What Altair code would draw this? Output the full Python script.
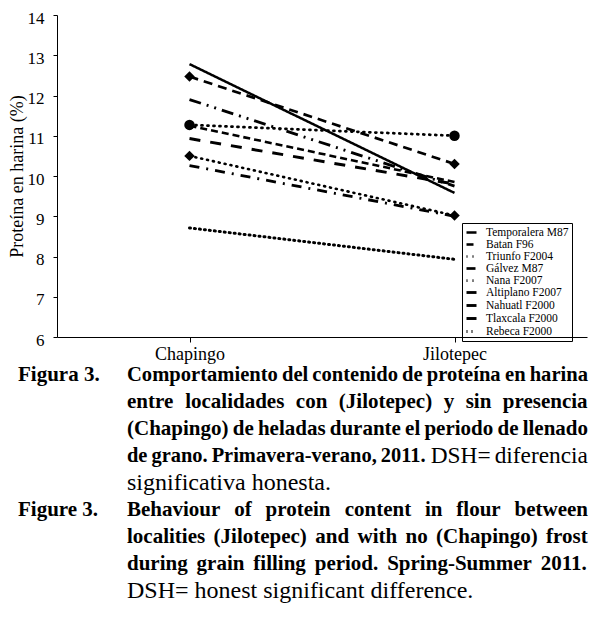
import altair as alt
import pandas as pd

localidades = ["Chapingo", "Jilotepec"]
variedades = ["Temporalera M87", "Batan F96", "Triunfo F2004", "Gálvez M87", "Nana F2007",
              "Altiplano F2007", "Nahuatl F2000", "Tlaxcala F2000", "Rebeca F2000"]
prot_chapingo = [12.78, 11.25, 10.50, 12.47, 11.27, 10.26, 11.90, 10.93, 8.71]
prot_jilotepec = [9.58, 9.85, 9.02, 10.30, 11.00, 9.00, 9.75, 9.80, 7.93]

dash_styles = [[1, 0], [7, 4], [1, 5], [9, 6], [1, 5], [10, 7, 2, 7], [12, 6, 2, 6, 2, 6], [11, 10], [1, 4]]
line_widths = [2.5, 3, 3, 3.5, 3, 4, 1.8, 3.5, 2.5]
dotted = ["Triunfo F2004", "Nana F2007", "Rebeca F2000"]
marker_vars = ["Triunfo F2004", "Gálvez M87", "Nana F2007"]
marker_shapes = ["diamond", "diamond", "circle"]

rows = []
for v, a, b in zip(variedades, prot_chapingo, prot_jilotepec):
    rows.append({"Variedad": v, "Localidad": localidades[0], "Proteina": a})
    rows.append({"Variedad": v, "Localidad": localidades[1], "Proteina": b})
df = pd.DataFrame(rows)

SERIF = "Liberation Serif"

x_enc = alt.X("Localidad:N",
              scale=alt.Scale(type="point", domain=localidades, padding=0.5),
              axis=alt.Axis(title=None, labelFont=SERIF, labelFontSize=18, labelAngle=0,
                            labelPadding=3, tickSize=5, grid=False))
y_enc = alt.Y("Proteina:Q",
              scale=alt.Scale(domain=[6, 14], nice=False, zero=False),
              axis=alt.Axis(title="Proteína en harina (%)", values=list(range(6, 15)),
                            labelFont=SERIF, labelFontSize=17, tickSize=4, labelPadding=9,
                            labelOffset=3,
                            titleFont=SERIF, titleFontSize=18, titleFontWeight="normal",
                            titlePadding=1, grid=False))

dash_enc = alt.StrokeDash("Variedad:N",
                          scale=alt.Scale(domain=variedades, range=dash_styles),
                          legend=alt.Legend(title=None, orient="none", legendX=405, legendY=208,
                                            symbolType="stroke", symbolStrokeWidth=2,
                                            symbolStrokeColor="black", symbolSize=100,
                                            labelFont=SERIF, labelFontSize=11.5,
                                            rowPadding=0, strokeColor="black",
                                            padding=3, labelOffset=8))
width_enc = alt.StrokeWidth("Variedad:N",
                            scale=alt.Scale(domain=variedades, range=line_widths),
                            legend=None)

base = alt.Chart(df)
lines_round = base.mark_line(color="black", strokeCap="round").encode(
    x=x_enc, y=y_enc, strokeDash=dash_enc, strokeWidth=width_enc, detail="Variedad:N"
).transform_filter(alt.FieldOneOfPredicate(field="Variedad", oneOf=dotted))
lines_butt = base.mark_line(color="black", strokeCap="butt").encode(
    x=x_enc, y=y_enc, strokeDash=dash_enc, strokeWidth=width_enc, detail="Variedad:N"
).transform_filter(~alt.FieldOneOfPredicate(field="Variedad", oneOf=dotted))
points = base.mark_point(filled=True, color="black", opacity=1, size=110).encode(
    x=x_enc, y=y_enc,
    shape=alt.Shape("Variedad:N", scale=alt.Scale(domain=marker_vars, range=marker_shapes), legend=None)
).transform_filter(alt.FieldOneOfPredicate(field="Variedad", oneOf=marker_vars))

# ---- caption text (Times-metric widths, used only to justify words) ----
BOLD_W = dict(zip("abcdefghijklmnopqrstuvwxyz",
                  [500, 556, 444, 556, 444, 333, 500, 556, 278, 333, 556, 278, 833, 556, 500, 556, 556, 444, 389, 333, 556, 500, 722, 500, 500, 444]))
BOLD_W.update(zip("ABCDEFGHIJKLMNOPQRSTUVWXYZ",
                  [722, 667, 722, 722, 667, 611, 778, 778, 389, 500, 778, 667, 944, 722, 778, 611, 778, 722, 556, 667, 722, 722, 1000, 722, 722, 667]))
BOLD_W.update({".": 250, ",": 250, "-": 333, "(": 333, ")": 333, "=": 570, "í": 278, "á": 500, " ": 250})
REG_W = dict(zip("abcdefghijklmnopqrstuvwxyz",
                 [444, 500, 444, 500, 444, 333, 500, 500, 278, 278, 500, 278, 778, 500, 500, 500, 500, 333, 389, 278, 500, 500, 722, 500, 500, 444]))
REG_W.update(zip("ABCDEFGHIJKLMNOPQRSTUVWXYZ",
                 [722, 667, 667, 722, 611, 556, 722, 722, 333, 389, 722, 611, 889, 722, 722, 556, 722, 667, 556, 611, 722, 722, 944, 722, 722, 611]))
REG_W.update({".": 250, ",": 250, "-": 333, "(": 333, ")": 333, "=": 564, "í": 278, "á": 500, " ": 250})
for d in (BOLD_W, REG_W):
    d.update({c: 500 for c in "0123456789"})

FS_B = 21
FS_R = 24
MIN_GAP = 4


def wwidth(word, bold, fs):
    tbl = BOLD_W if bold else REG_W
    return sum(tbl.get(c, 500) for c in word) * fs / 1000.0


one = pd.DataFrame({"k": [0]})


def word_mark(s, px, py, bold, fs):
    return alt.Chart(one).mark_text(
        text=s, font=SERIF, fontSize=round(fs, 2),
        fontWeight="bold" if bold else "normal",
        align="left", baseline="middle", color="black"
    ).encode(x=alt.value(px - 57), y=alt.value(py - 15))


def line_marks(segments, x0, x1, py, justify=True):
    words = []
    for text, bold in segments:
        for w in text.split():
            words.append((w, bold))
    sizes = [FS_B if b else FS_R for w, b in words]
    widths = [wwidth(w, b, s) for (w, b), s in zip(words, sizes)]
    if justify and len(words) > 1:
        avail = x1 - x0 - MIN_GAP * (len(words) - 1)
        if sum(widths) > avail:
            k = avail / sum(widths)
            sizes = [s * k for s in sizes]
            widths = [w * k for w in widths]
        gap = (x1 - x0 - sum(widths)) / (len(words) - 1)
    else:
        gap = 0.25 * FS_R
    marks = []
    x = x0
    for (w, b), wd, s in zip(words, widths, sizes):
        marks.append(word_mark(w, x, py, b, s))
        x += wd + gap
    return marks


L, R, IND = 18, 588, 127
caption = []
caption += [word_mark("Figura 3.", L, 375, True, FS_B)]
caption += line_marks([("Comportamiento del contenido de proteína en harina", True)], IND, R, 375)
caption += line_marks([("entre localidades con (Jilotepec) y sin presencia", True)], IND, R, 402)
caption += line_marks([("(Chapingo) de heladas durante el periodo de llenado", True)], IND, R, 429)
caption += line_marks([("de grano. Primavera-verano, 2011.", True), ("DSH= diferencia", False)], IND, R, 456)
caption += line_marks([("significativa honesta.", False)], IND, R, 483, justify=False)
caption += [word_mark("Figure 3.", L, 510, True, FS_B)]
caption += line_marks([("Behaviour of protein content in flour between", True)], IND, R, 510)
caption += line_marks([("localities (Jilotepec) and with no (Chapingo) frost", True)], IND, R, 537)
caption += line_marks([("during grain filling period. Spring-Summer 2011.", True)], IND, R, 564)
caption += line_marks([("DSH= honest significant difference.", False)], IND, R, 591, justify=False)

chart = alt.layer(lines_butt, lines_round, points, *caption).properties(
    width=530, height=322,
    padding={"left": 49, "top": 7, "right": 13, "bottom": 280},
    autosize=alt.AutoSizeParams(type="none"),
).configure_view(stroke=None).configure_axis(
    domainColor="black", tickColor="black", labelColor="black", titleColor="black"
)

chart.save("out.html", embed_options={"renderer": "svg", "actions": False})
